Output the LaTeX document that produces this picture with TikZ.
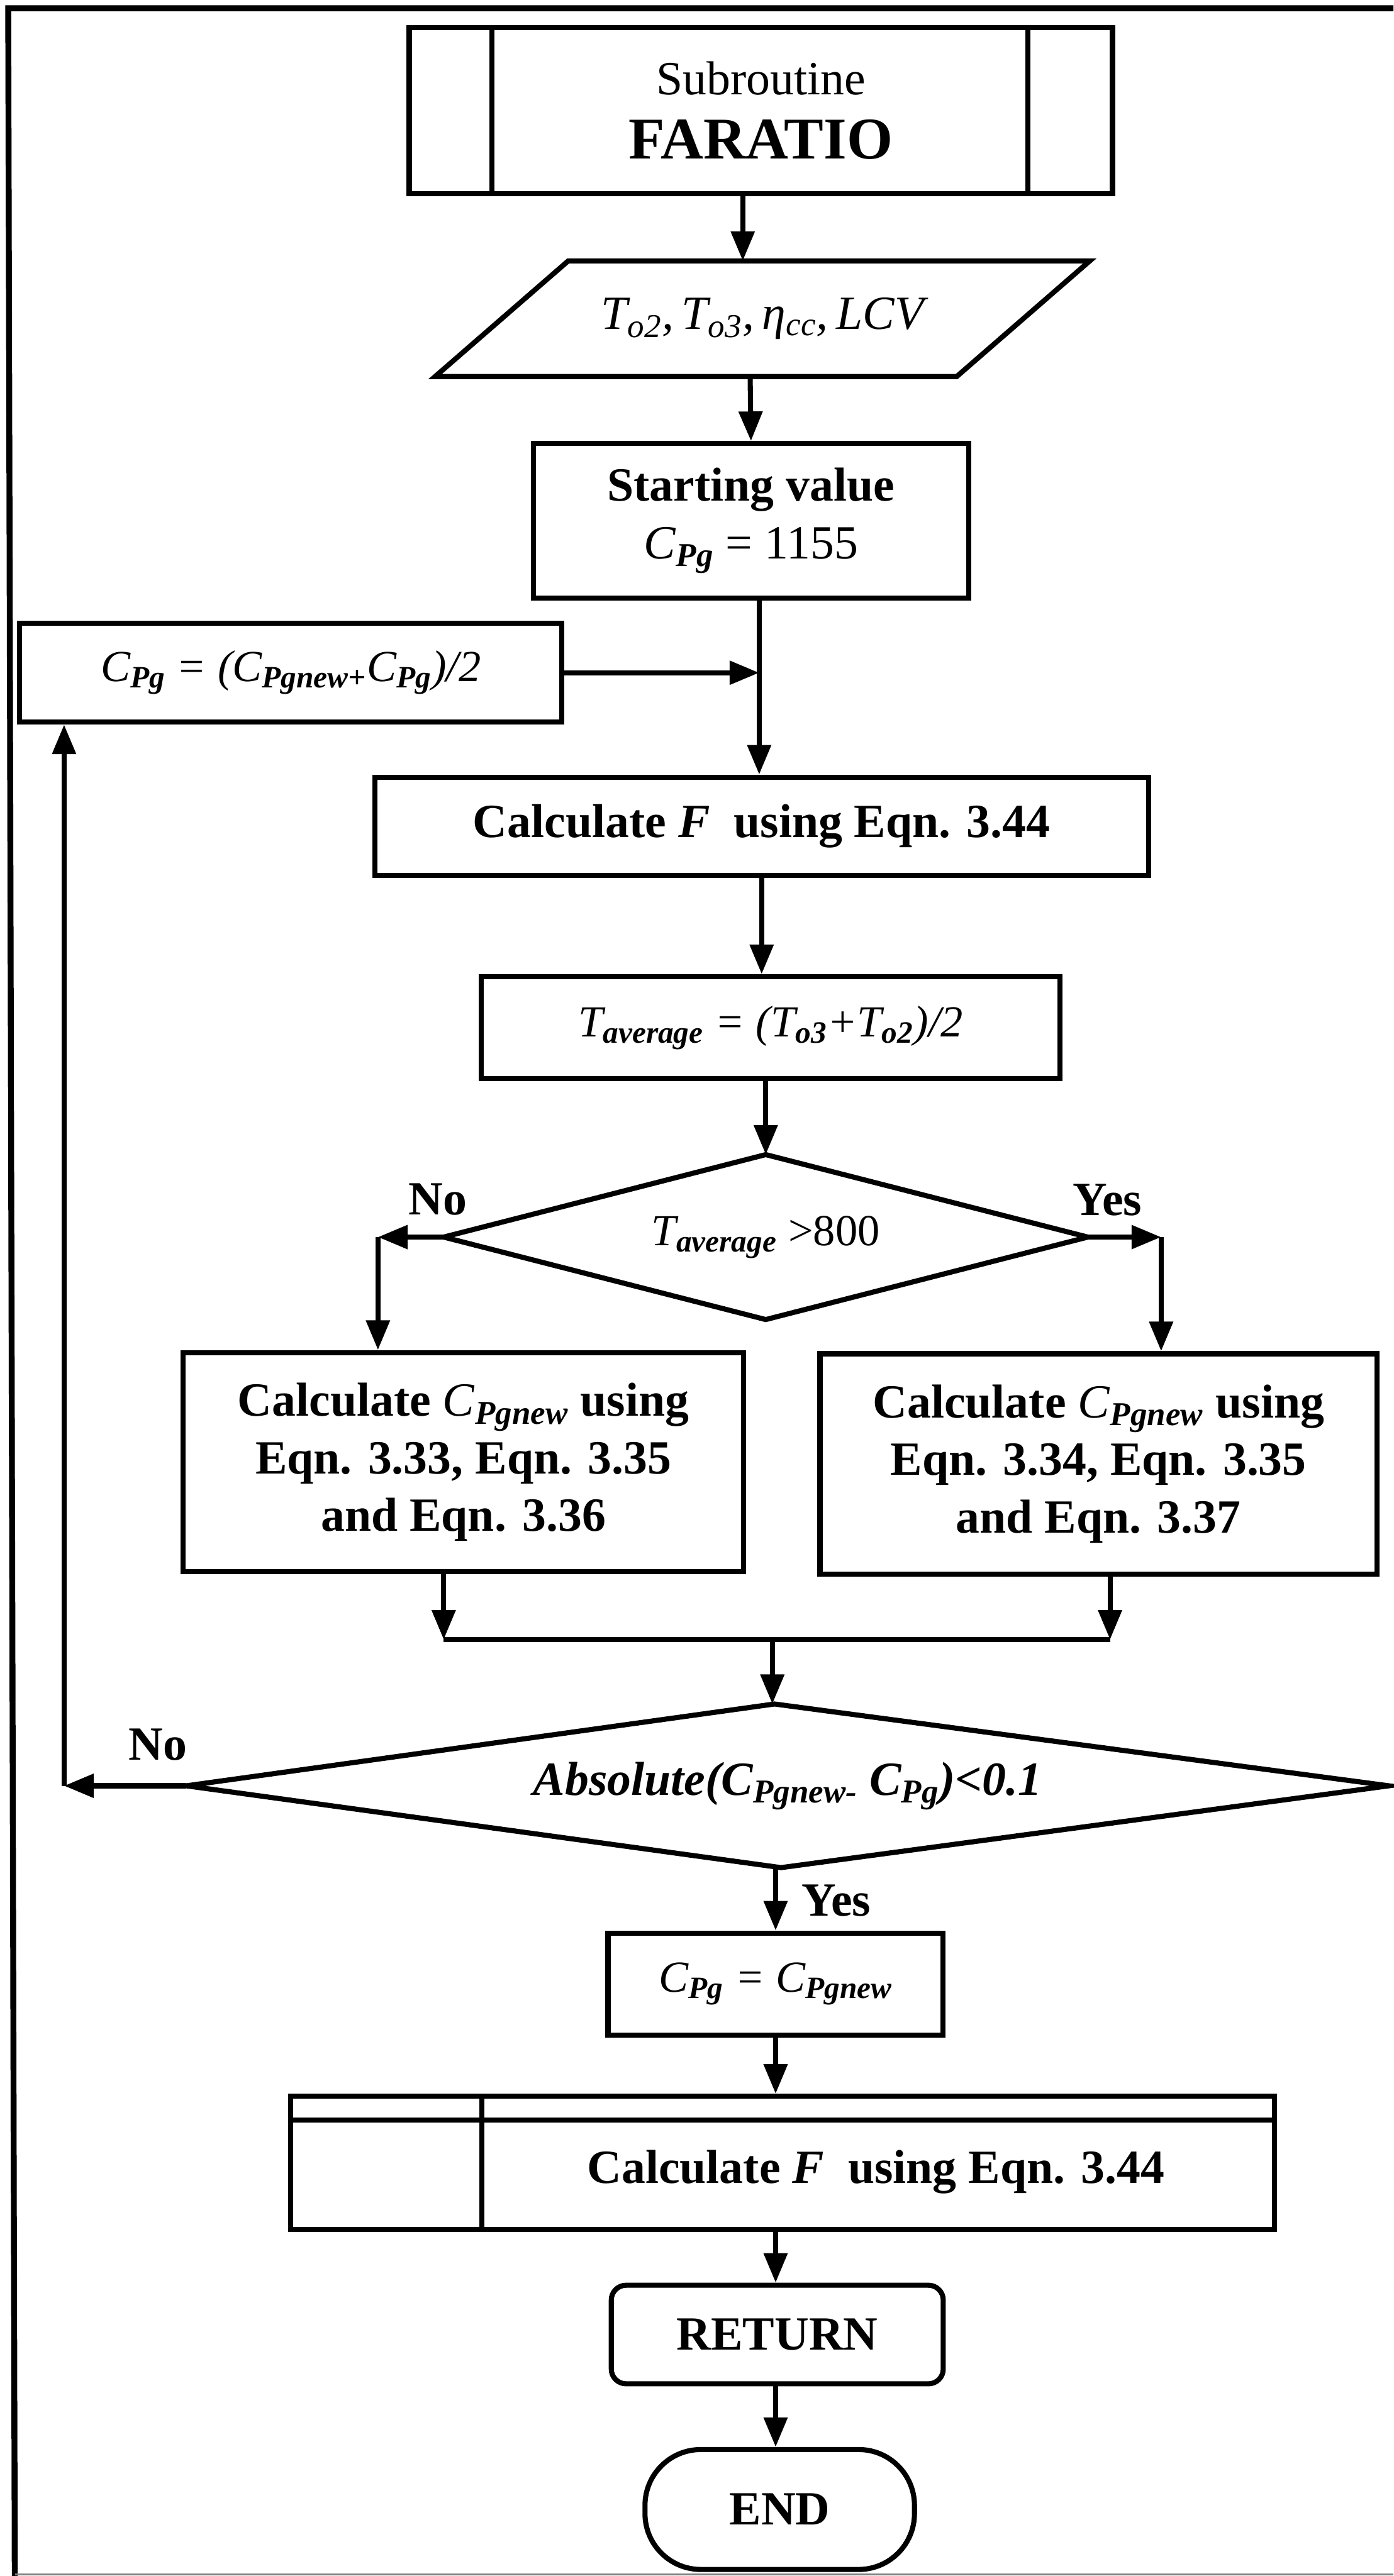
\documentclass[tikz,border=0pt]{standalone}
\usepackage{fontspec}
\setmainfont{Liberation Serif}
\usetikzlibrary{arrows.meta}
% italic subscripts used in the formulas
\newcommand\sbi[1]{\textsubscript{\bfseries\itshape #1}}
\newcommand\sbm[1]{\textsubscript{\mdseries\itshape #1}}
\begin{document}
\begin{tikzpicture}[x=1pt,y=-1pt,
  ln/.style={line width=3.1pt},
  arr/.style={ln,-{Triangle[length=18pt,width=14pt]}},
  box/.style={draw,ln,inner sep=0pt,align=center,font=\fontsize{29}{35}\selectfont\bfseries},
  mbox/.style={box,font=\fontsize{27}{33}\selectfont\itshape},
  ghost/.style={inner sep=0pt,align=center,font=\fontsize{27}{33}\selectfont\itshape},
  lbl/.style={inner sep=0pt,font=\fontsize{29}{35}\selectfont\bfseries}]
\useasboundingbox (0,0) rectangle (848,1568);
\fill[white] (0,0) rectangle (848,1568);
% outer frame
\draw[line width=3.6pt] (848,5) -- (5,5) -- (9,1568);
\draw[line width=1pt,gray] (9,1567) -- (848,1567);

% process nodes
\node[box,minimum width=428,minimum height=101,font=\fontsize{36}{39}\selectfont\bfseries] (sub) at (463,67.3)
  {{\fontsize{29}{34}\selectfont\mdseries Subroutine}\\FARATIO};
\draw[ln] ([xshift=52]sub.north west) -- ([xshift=52]sub.south west);
\draw[ln] ([xshift=-53]sub.north east) -- ([xshift=-53]sub.south east);

\node[ghost,minimum width=317,minimum height=70,font=\fontsize{29}{33}\selectfont\itshape] (inp) at (464,194)
  {T\sbm{o2},\,T\sbm{o3},\,η\sbm{cc},\,LCV};
\draw[ln] ([xshift=40.5]inp.north west) -- ([xshift=40.5]inp.north east)
  -- ([xshift=-40.5]inp.south east) -- ([xshift=-40.5]inp.south west) -- cycle;

\node[box,minimum width=265,minimum height=94] (start) at (457,317)
  {Starting value\\\textit{\mdseries C}\sbi{Pg}\textmd{ = 1155}};

\node[mbox,minimum width=330,minimum height=60] (avg1) at (177,409.5)
  {C\sbi{Pg} = (C\sbi{Pgnew+}C\sbi{Pg})/2};

\node[box,minimum width=471,minimum height=60] (calcF) at (463.5,503)
  {Calculate \textit{F}\ \ using Eqn. 3.44};

\node[mbox,minimum width=352,minimum height=62] (tavg) at (469,625.5)
  {T\sbi{average} = (T\sbi{o3}+T\sbi{o2})/2};

\node[ghost,minimum width=391.6,minimum height=100] (dia1) at (466,753)
  {T\sbi{average} \textup{>800}};
\draw[ln] (dia1.west) -- (dia1.north) -- (dia1.east) -- (dia1.south) -- cycle;

\node[box,minimum width=341,minimum height=133.5] (cl) at (282,890)
  {Calculate \textit{\mdseries C}\sbi{Pgnew} using\\Eqn. 3.33, Eqn. 3.35\\and Eqn. 3.36};
\node[box,minimum width=339,minimum height=134] (cr) at (668.5,891)
  {Calculate \textit{\mdseries C}\sbi{Pgnew} using\\Eqn. 3.34, Eqn. 3.35\\and Eqn. 3.37};

\node[ghost,minimum width=731.4,minimum height=99.2,font=\fontsize{29}{33}\selectfont\bfseries\itshape] (dia2) at (479.3,1087)
  {Absolute(C\sbi{Pgnew-} C\sbi{Pg})<0.1};
\draw[ln] (dia2.west) -- ([xshift=-8]dia2.north) -- (dia2.east) -- ([xshift=-4]dia2.south) -- cycle;

\node[mbox,minimum width=204,minimum height=62] (cpg) at (472,1207.6)
  {C\sbi{Pg} = C\sbi{Pgnew}};

\node[draw,ln,inner sep=0pt,minimum width=598.5,minimum height=81] (fin) at (476.2,1316.5) {};
\draw[ln] ([yshift=-16]fin.north west) -- ([yshift=-16]fin.north east);
\draw[ln] ([xshift=117.7]fin.north west) -- ([xshift=117.7]fin.south west);
\node[lbl] (fintxt) at (533,1322) {Calculate \textit{F}\ \ using Eqn. 3.44};

\node[box,rounded corners=9,minimum width=202,minimum height=60] (ret) at (473,1421) {RETURN};
\node[box,rounded corners=34,minimum width=164,minimum height=73] (endn) at (474.5,1527.5) {END};

% branch labels
\node[lbl] (no1) at (266.5,730) {No};
\node[lbl] (yes1) at (674,730.5) {Yes};
\node[lbl] (no2) at (96,1062) {No};
\node[lbl] (yes2) at (509,1157) {Yes};

% junction points
\coordinate (jn) at (462,409.5);
\coordinate (nl) at (230,753);
\coordinate (yr) at (706.6,753);
\coordinate (mL) at (270,998);
\coordinate (mR) at (675.5,998);
\coordinate (mM) at (470,998);
\coordinate (lp) at (39,1087);

% connectors
\draw[arr] ([xshift=-11]sub.south) -- ([xshift=-12]inp.north);
\draw[arr] ([xshift=-7.5]inp.south) -- (start.north);
\draw[arr] (start.south -| jn) -- (calcF.north -| jn);
\draw[arr] (avg1.east) -- (jn);
\draw[arr] (calcF.south) -- (tavg.north -| calcF.south);
\draw[arr] (tavg.south -| dia1.north) -- (dia1.north);
\draw[arr] (dia1.west) -- (nl);
\draw[arr] (nl) -- (cl.north -| nl);
\draw[arr] (dia1.east) -- (yr);
\draw[arr] (yr) -- (cr.north -| yr);
\draw[arr] (cl.south -| mL) -- (mL);
\draw[arr] (cr.south -| mR) -- (mR);
\draw[ln] (mL) -- (mR);
\draw[arr] (mM) -- (dia2.north -| mM);
\draw[arr] (dia2.west) -- (lp);
\draw[arr] (lp) -- (avg1.south -| lp);
\draw[arr] (dia2.south -| cpg.north) -- (cpg.north);
\draw[arr] (cpg.south) -- (fin.north -| cpg.south);
\draw[arr] (fin.south -| cpg.south) -- (ret.north -| cpg.south);
\draw[arr] (ret.south -| cpg.south) -- (endn.north -| cpg.south);
\end{tikzpicture}
\end{document}
